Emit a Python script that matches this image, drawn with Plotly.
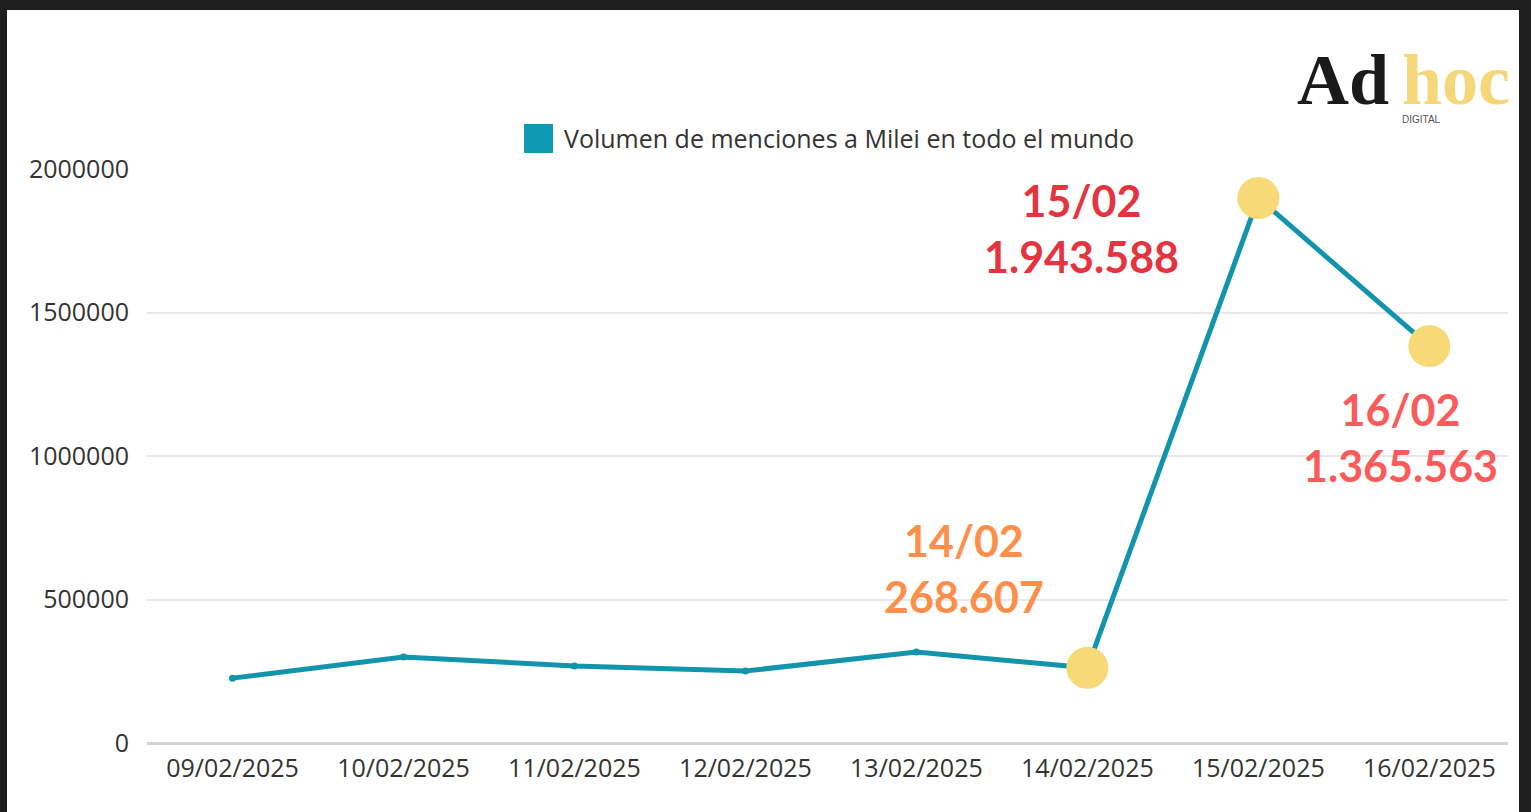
import plotly.graph_objects as go

# ---- data ----
categories = ["09/02/2025", "10/02/2025", "11/02/2025", "12/02/2025",
              "13/02/2025", "14/02/2025", "15/02/2025", "16/02/2025"]
mentions = [226000, 300000, 268000, 251000, 317000, 262000, 1899000, 1383000]
series_name = "Volumen de menciones a Milei en todo el mundo"

highlight_dates = ["14/02/2025", "15/02/2025", "16/02/2025"]
highlight_labels = ["14/02<br>268.607", "15/02<br>1.943.588", "16/02<br>1.365.563"]
highlight_colors = ["#fd8f4b", "#e5343f", "#fb5b5b"]
# label offsets from the point (pixels)
label_shift = [(-123, 99), (-177, -31), (-29, -91)]

y_ticks = [0, 500000, 1000000, 1500000, 2000000]

# ---- geometry ----
W, H = 1531, 812
L, R, T, B = 147, 23, 169, 69
pw, ph = W - L - R, H - T - B

def px(x):
    return (x - L) / pw

def py(y):
    return (H - B - y) / ph

TEAL = "#1394ad"
YELLOW = "#f7d978"

sizes = [42 if c in highlight_dates else 7 for c in categories]
colors = [YELLOW if c in highlight_dates else TEAL for c in categories]

fig = go.Figure()
fig.add_trace(go.Scatter(
    x=categories, y=mentions, mode="lines+markers",
    line=dict(color=TEAL, width=5),
    marker=dict(size=sizes, color=colors, line=dict(width=0), opacity=1),
    showlegend=False, name=series_name,
))

annotations = []
for d, lab, col, (dx, dy) in zip(highlight_dates, highlight_labels, highlight_colors, label_shift):
    i = categories.index(d)
    annotations.append(dict(
        x=d, y=mentions[i], xref="x", yref="y", text="<b>" + lab + "</b>",
        showarrow=False, xshift=dx, yshift=dy, xanchor="center", yanchor="middle",
        align="center", font=dict(family="Lato", size=43, color=col),
    ))

# legend (manual)
annotations.append(dict(
    x=px(562), y=py(138), xref="paper", yref="paper", text=series_name,
    showarrow=False, xanchor="left", yanchor="middle",
    font=dict(family="Open Sans", size=25, color="#333333"),
))

# logo
annotations += [
    dict(x=px(1295), y=py(80), xref="paper", yref="paper", text="<b>Ad</b>", showarrow=False,
         xanchor="left", yanchor="middle",
         font=dict(family="Liberation Serif", size=72, color="#1a1a1a")),
    dict(x=px(1400), y=py(80), xref="paper", yref="paper", text="<b>hoc</b>", showarrow=False,
         xanchor="left", yanchor="middle",
         font=dict(family="Liberation Serif", size=72, color="#f5d77a")),
    dict(x=px(1400), y=py(119), xref="paper", yref="paper", text="DIGITAL", showarrow=False,
         xanchor="left", yanchor="middle",
         font=dict(family="Liberation Sans", size=10, color="#555555")),
]

shapes = [
    dict(type="rect", xref="paper", yref="paper", layer="below",
         x0=px(7), x1=px(1519), y0=py(812), y1=py(10),
         fillcolor="white", line=dict(width=0)),
    dict(type="rect", xref="paper", yref="paper",
         x0=px(524), x1=px(553), y0=py(153), y1=py(124),
         fillcolor="#0f9ab3", line=dict(width=0)),
]

fig.update_layout(
    width=W, height=H,
    margin=dict(l=L, r=R, t=T, b=B, pad=0),
    paper_bgcolor="#1e1e1e", plot_bgcolor="rgba(0,0,0,0)",
    font=dict(family="Open Sans", size=25, color="#333333"),
    showlegend=False,
    annotations=annotations, shapes=shapes,
    xaxis=dict(type="category", categoryorder="array", categoryarray=categories,
               range=[-0.5, len(categories) - 0.54], showgrid=False, zeroline=False,
               showline=False, ticks="", ticklabelstandoff=8,
               tickfont=dict(family="Open Sans", size=25, color="#333333")),
    yaxis=dict(range=[0, 2000000], tickvals=y_ticks, tickformat="d",
               showgrid=True, gridcolor="#e8e8e8", gridwidth=2,
               zeroline=True, zerolinecolor="#d4d4d4", zerolinewidth=3,
               showline=False, ticks="", ticklabelstandoff=17,
               tickfont=dict(family="Open Sans", size=25, color="#333333")),
)

fig.write_html("out.html", config={"displayModeBar": False},
               post_script="document.body.style.margin='0';document.body.style.overflow='hidden';")
